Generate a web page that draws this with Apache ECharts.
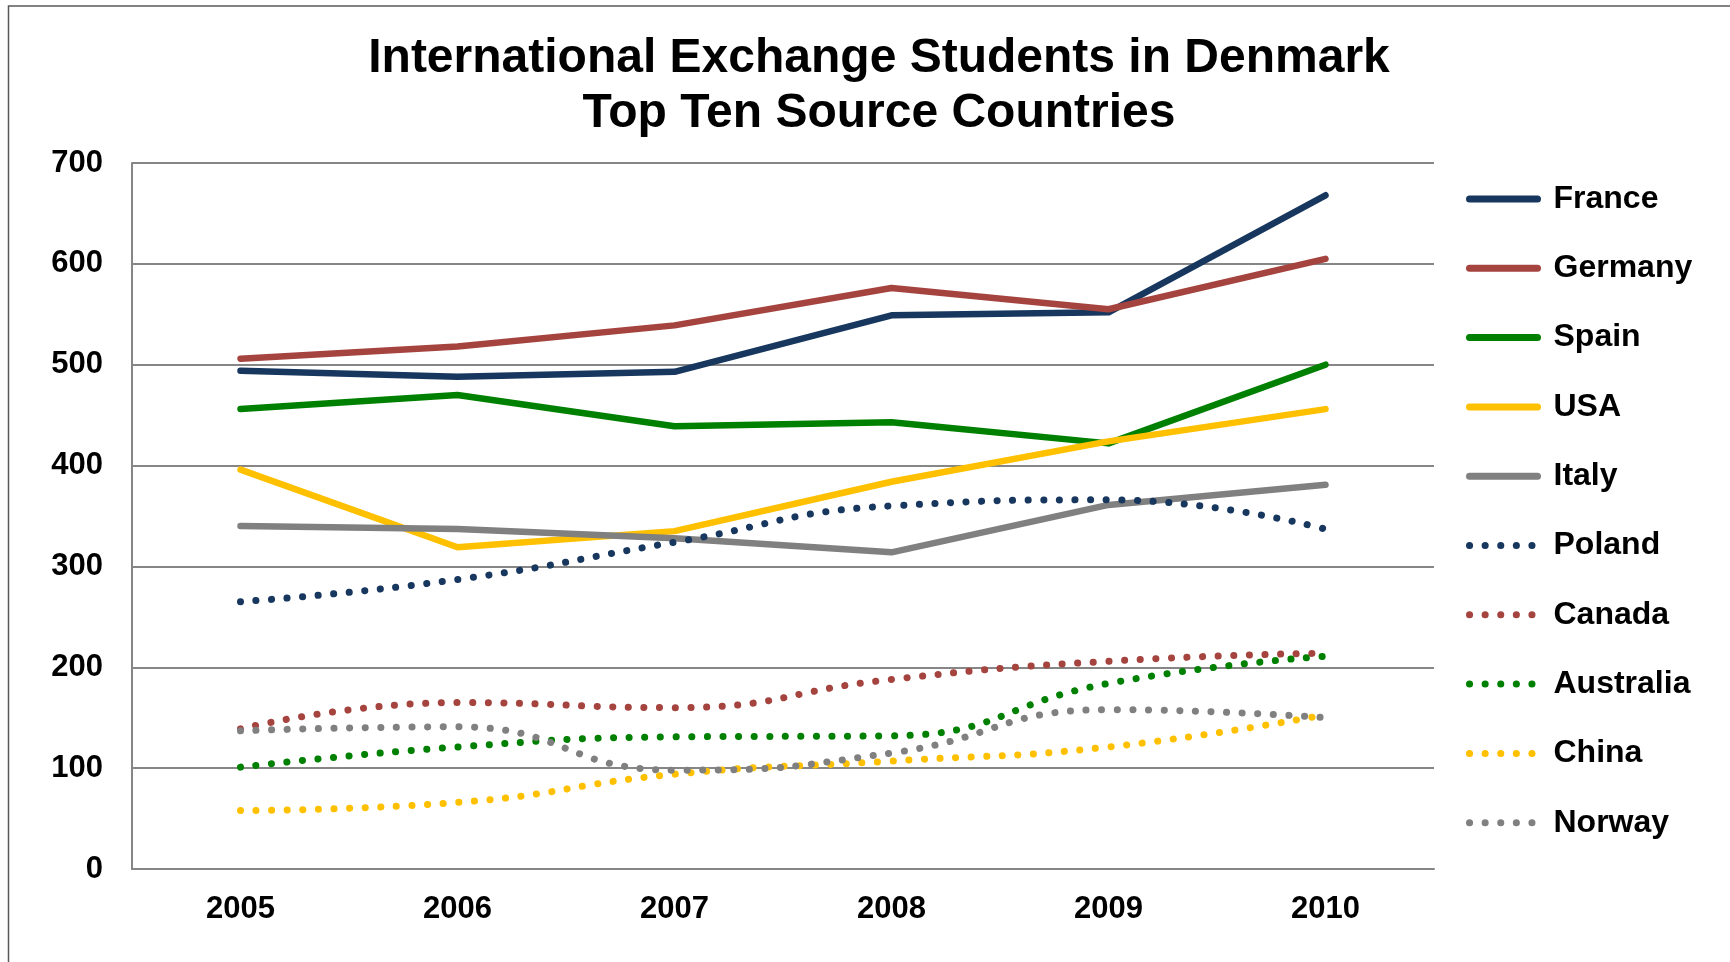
<!DOCTYPE html>
<html>
<head>
<meta charset="utf-8">
<title>International Exchange Students in Denmark</title>
<script src="https://cdn.jsdelivr.net/npm/echarts@6/dist/echarts.min.js"></script>
<style>
  html, body { margin: 0; padding: 0; background: #fff; }
  #chart { width: 1730px; height: 962px; }
</style>
</head>
<body>
<div id="chart"></div>
<script>
// 数据
var years = ['2005', '2006', '2007', '2008', '2009', '2010'];
var yTicks = [0, 100, 200, 300, 400, 500, 600, 700];

var france    = [494, 488, 493, 549, 552, 668];
var germany   = [506, 518, 539, 576, 555, 605];
var spain     = [456, 470, 439, 443, 422, 500];
var usa       = [396, 319, 335, 384, 424, 456];
var italy     = [340, 337, 328, 314, 361, 381];
var poland    = [265, 287, 324, 360, 366, 337];
var canada    = [139, 165, 160, 188, 206, 214];
var australia = [101, 121, 131, 132, 184, 211];
var china     = [58, 66, 94, 107, 121, 153];
var norway    = [137, 141, 98, 115, 158, 150];

var fontName = '"Liberation Sans", Arial, sans-serif';

function solid(name, data, color) {
    return {
        name: name,
        type: 'line',
        data: data,
        symbol: 'none',
        lineStyle: { color: color, width: 6.5, cap: 'round', join: 'round' },
        itemStyle: { color: color }
    };
}

function dotted(name, data, color) {
    return {
        name: name,
        type: 'line',
        data: data,
        symbol: 'none',
        smooth: true,
        lineStyle: { color: color, width: 7, type: [0.1, 15.5], cap: 'round', join: 'round' },
        itemStyle: { color: color }
    };
}

var chart = echarts.init(document.getElementById('chart'));

var option = {
    animation: false,
    backgroundColor: '#fff',
    title: {
        text: 'International Exchange Students in Denmark\nTop Ten Source Countries',
        left: 874,
        top: 26,
        textAlign: 'center',
        textStyle: {
            fontFamily: fontName,
            fontSize: 48,
            fontWeight: 'bold',
            color: '#000',
            lineHeight: 55
        }
    },
    graphic: [{
        type: 'rect',
        shape: { x: 8.5, y: 6, width: 1800, height: 1000 },
        style: { fill: 'none', stroke: '#595959', lineWidth: 1.5 },
        silent: true
    }],
    legend: {
        orient: 'vertical',
        left: 1461,
        top: 174,
        itemWidth: 68,
        itemHeight: 14,
        itemGap: 29.3,
        itemStyle: { opacity: 0 },
        lineStyle: { width: 7 },
        textStyle: {
            fontFamily: fontName,
            fontSize: 32,
            fontWeight: 'bold',
            color: '#000',
            lineHeight: 40,
            padding: [0, 0, 0, 11]
        }
    },
    grid: {
        left: 132,
        right: 296,
        top: 163,
        bottom: 93
    },
    xAxis: {
        type: 'category',
        data: years,
        boundaryGap: true,
        axisLine: { lineStyle: { color: '#868686', width: 2 } },
        axisTick: { show: false },
        axisLabel: {
            fontFamily: fontName,
            fontSize: 31,
            fontWeight: 'bold',
            color: '#000',
            margin: 25
        }
    },
    yAxis: {
        type: 'value',
        min: yTicks[0],
        max: yTicks[yTicks.length - 1],
        interval: 100,
        axisLine: { show: true, lineStyle: { color: '#868686', width: 2 } },
        axisTick: { show: false },
        splitLine: { lineStyle: { color: '#868686', width: 2 } },
        axisLabel: {
            fontFamily: fontName,
            fontSize: 31,
            fontWeight: 'bold',
            color: '#000',
            margin: 29
        }
    },
    series: [
        solid('France', france, '#17375E'),
        solid('Germany', germany, '#A5443F'),
        solid('Spain', spain, '#008000'),
        solid('USA', usa, '#FFC000'),
        solid('Italy', italy, '#808080'),
        dotted('Poland', poland, '#17375E'),
        dotted('Canada', canada, '#A5443F'),
        dotted('Australia', australia, '#008000'),
        dotted('China', china, '#FFC000'),
        dotted('Norway', norway, '#808080')
    ]
};

chart.setOption(option);
</script>
</body>
</html>
